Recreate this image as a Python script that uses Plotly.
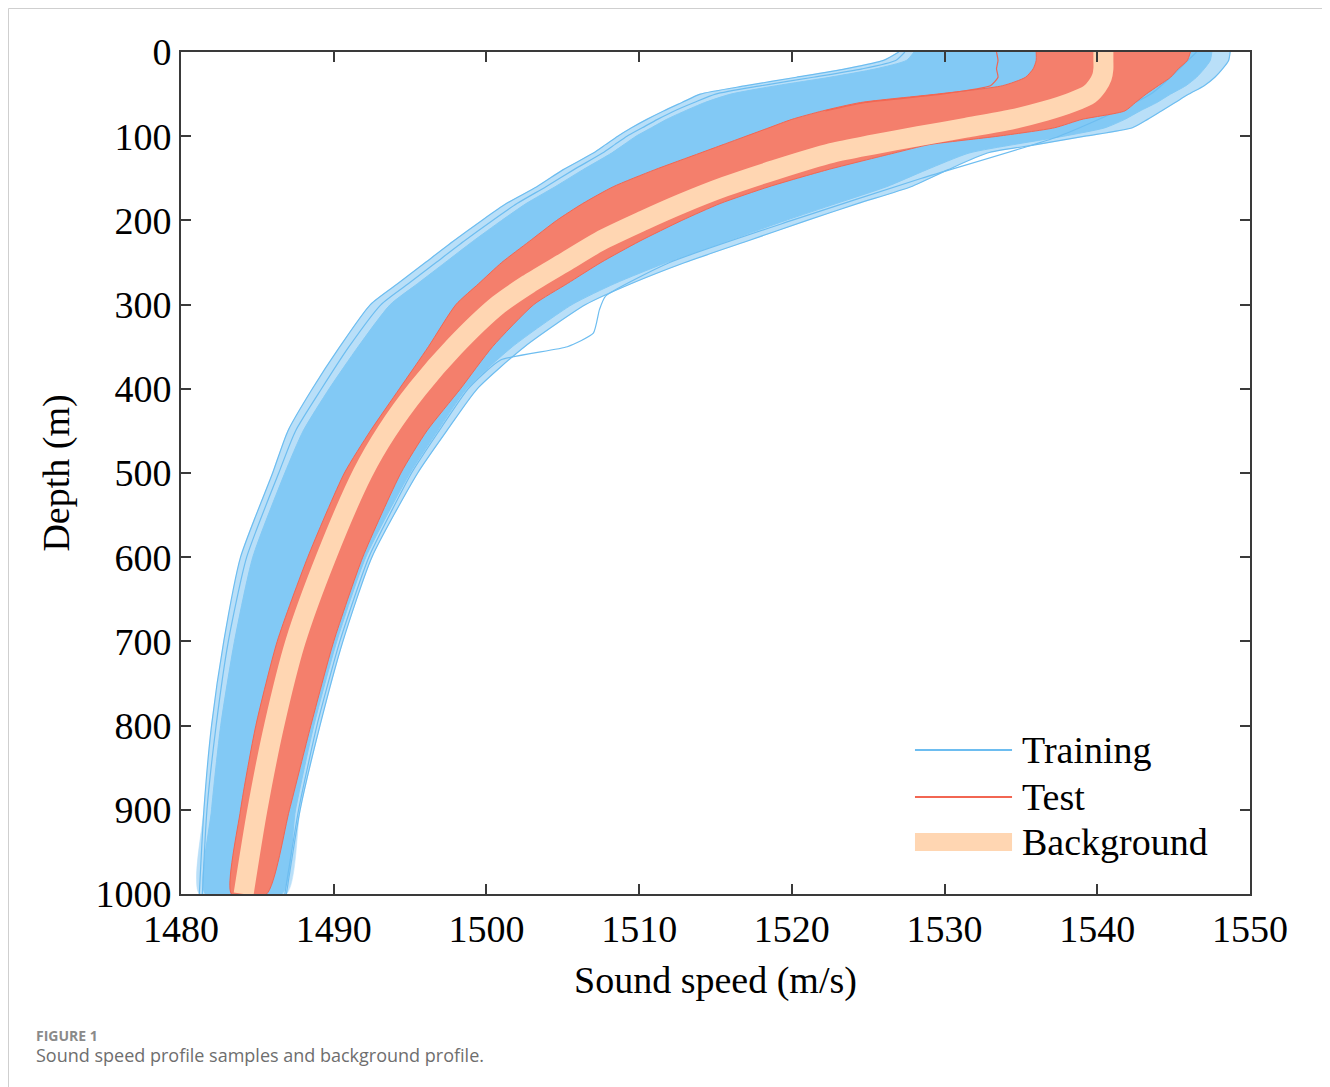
import plotly.graph_objects as go

# ---------------- data ----------------
depth = [0, 10, 20, 30, 40, 50, 60, 70, 80, 90, 100, 110, 120, 140, 160, 180,
         200, 225, 250, 275, 300, 350, 400, 450, 500, 600, 700, 800, 900, 1000]

# training profiles: outermost visible sample lines and the dense core of the bundle
training_min = [1527.0, 1526.0, 1523.5, 1520.3, 1517.0, 1514.0, 1512.8, 1511.6, 1510.5, 1509.5,
                1508.6, 1507.8, 1507.0, 1505.0, 1503.3, 1501.3, 1499.7, 1497.8, 1496.0, 1494.2,
                1492.4, 1490.4, 1488.6, 1487.0, 1486.0, 1483.9, 1482.8, 1482.0, 1481.5, 1481.2]
training_left_b = [1527.4, 1526.8, 1524.6, 1521.4, 1518.0, 1515.0, 1513.6, 1512.3, 1511.2, 1510.2,
                   1509.2, 1508.4, 1507.6, 1505.7, 1503.9, 1502.0, 1500.4, 1498.5, 1496.7, 1494.9,
                   1493.1, 1491.0, 1489.2, 1487.5, 1486.4, 1484.3, 1483.1, 1482.3, 1481.7, 1481.4]
training_dense_min = [1528.0, 1527.5, 1525.5, 1522.5, 1519.0, 1516.0, 1514.3, 1513.0, 1511.8, 1510.8,
                      1509.8, 1509.0, 1508.2, 1506.3, 1504.5, 1502.6, 1501.0, 1499.1, 1497.3, 1495.5,
                      1493.7, 1491.6, 1489.7, 1488.0, 1486.8, 1484.7, 1483.5, 1482.6, 1482.0, 1481.6]
training_dense_max = [1547.5, 1547.4, 1547.0, 1546.5, 1545.8, 1544.8, 1543.9, 1542.8, 1541.8, 1540.5,
                      1537.8, 1534.5, 1531.6, 1528.8, 1526.2, 1522.9, 1519.6, 1515.7, 1511.8, 1508.4,
                      1505.6, 1501.7, 1498.7, 1496.8, 1495.0, 1492.1, 1490.2, 1488.7, 1487.5, 1486.6]
training_max = [1548.7, 1548.6, 1548.2, 1547.7, 1547.0, 1546.0, 1545.1, 1544.2, 1543.3, 1542.3,
                1539.2, 1536.0, 1532.8, 1530.2, 1527.8, 1524.3, 1521.0, 1517.0, 1513.0, 1509.5,
                1506.5, 1502.5, 1499.4, 1497.4, 1495.5, 1492.5, 1490.6, 1489.1, 1487.8, 1486.9]

# envelope of the test profiles (red bundle)
test_min = [1536.0, 1536.0, 1535.8, 1535.3, 1533.8, 1529.5, 1524.5, 1522.0, 1520.0, 1518.5,
            1517.0, 1515.5, 1514.0, 1511.0, 1508.3, 1506.3, 1504.6, 1502.8, 1501.0, 1499.5,
            1498.0, 1496.2, 1494.3, 1492.4, 1490.7, 1488.3, 1486.3, 1484.9, 1483.9, 1483.3]
test_max = [1546.1, 1545.9, 1545.3, 1544.8, 1544.0, 1543.2, 1542.5, 1541.8, 1539.0, 1537.2,
            1533.5, 1529.0, 1526.7, 1522.3, 1518.5, 1515.3, 1512.8, 1510.0, 1507.5, 1505.3,
            1503.1, 1500.4, 1498.3, 1496.1, 1494.4, 1491.9, 1490.0, 1488.5, 1487.1, 1485.6]

# background profile
background = [1540.4, 1540.4, 1540.4, 1540.3, 1540.0, 1539.5, 1538.3, 1536.6, 1534.4, 1531.4,
              1528.3, 1525.3, 1522.6, 1518.9, 1515.6, 1512.8, 1510.3, 1507.4, 1505.1, 1502.8,
              1500.8, 1497.9, 1495.5, 1493.5, 1491.9, 1489.5, 1487.5, 1486.1, 1485.0, 1484.1]

# individual visible sample lines
train_outlier_depth = [0, 50, 100, 150, 200, 250, 290, 306, 334, 350, 366, 400, 450, 500, 600, 700, 800, 900, 1000]
train_outlier_speed = [1546.5, 1543.5, 1537.5, 1528.5, 1520.0, 1512.0, 1507.8, 1507.4, 1507.0, 1505.3,
                       1500.9, 1498.8, 1496.9, 1495.1, 1492.3, 1490.4, 1488.9, 1487.7, 1486.8]
test_outlier_depth = [0, 10, 20, 30, 40, 50, 60, 70]
test_outlier_speed = [1533.4, 1533.5, 1533.4, 1533.5, 1533.0, 1529.8, 1524.8, 1522.2]

x_ticks = [1480, 1490, 1500, 1510, 1520, 1530, 1540, 1550]
y_ticks = [0, 100, 200, 300, 400, 500, 600, 700, 800, 900, 1000]

legend_labels = ["Training", "Test", "Background"]

# ---------------- styles ----------------
BLUE_FILL = "#82C9F5"
BLUE_SPARSE = "#B9DFF8"
BLUE_LINE = "#6DBDF0"
RED_FILL = "#F47F6C"
RED_LINE = "#F26652"
PEACH = "#FFD6B2"
SERIF = "Liberation Serif, Times New Roman, serif"
FS = 38
SPL = dict(shape="spline", smoothing=0.6)

fig = go.Figure()

# training bundle: sparse outer zone, dense core, edge sample lines
fig.add_trace(go.Scatter(
    x=training_min + training_max[::-1], y=depth + depth[::-1],
    fill="toself", fillcolor=BLUE_SPARSE, mode="lines",
    line=dict(color=BLUE_SPARSE, width=0.5, **SPL),
    hoverinfo="skip", showlegend=False))
fig.add_trace(go.Scatter(
    x=training_dense_min + training_dense_max[::-1], y=depth + depth[::-1],
    fill="toself", fillcolor=BLUE_FILL, mode="lines",
    line=dict(color=BLUE_FILL, width=1, **SPL),
    hoverinfo="skip", showlegend=False))
for xs in (training_min, training_left_b, training_max):
    fig.add_trace(go.Scatter(x=xs, y=depth, mode="lines",
                             line=dict(color=BLUE_LINE, width=1.2, **SPL),
                             hoverinfo="skip", showlegend=False))
fig.add_trace(go.Scatter(
    x=train_outlier_speed, y=train_outlier_depth, mode="lines",
    line=dict(color=BLUE_LINE, width=1.2, shape="spline", smoothing=0.5),
    hoverinfo="skip", showlegend=False))

# test bundle
fig.add_trace(go.Scatter(
    x=test_min + test_max[::-1], y=depth + depth[::-1],
    fill="toself", fillcolor=RED_FILL, mode="lines",
    line=dict(color=RED_LINE, width=1, **SPL),
    hoverinfo="skip", showlegend=False))
fig.add_trace(go.Scatter(
    x=test_outlier_speed, y=test_outlier_depth, mode="lines",
    line=dict(color=RED_LINE, width=1.2, shape="spline", smoothing=0.5),
    hoverinfo="skip", showlegend=False))

# background profile
fig.add_trace(go.Scatter(
    x=background, y=depth, mode="lines",
    line=dict(color=PEACH, width=20, shape="spline", smoothing=0.8),
    hoverinfo="skip", showlegend=False))

# ---------------- manual legend (long line samples as in the reference) ----------------
leg_x0, leg_x1, leg_tx = 0.6866, 0.7774, 0.7849
leg_y = [0.171, 0.1152, 0.0618]
leg_styles = [(BLUE_LINE, 2), (RED_LINE, 2), (PEACH, 18)]
for lab, yy, (c, w) in zip(legend_labels, leg_y, leg_styles):
    fig.add_shape(type="line", xref="paper", yref="paper",
                  x0=leg_x0, x1=leg_x1, y0=yy, y1=yy,
                  line=dict(color=c, width=w))
    fig.add_annotation(xref="paper", yref="paper", x=leg_tx, y=yy, text=lab,
                       showarrow=False, xanchor="left", yanchor="middle",
                       font=dict(family=SERIF, size=FS, color="black"))

# outer light frame
fig.add_shape(type="rect", xref="paper", yref="paper",
              x0=-0.16137, x1=1.07203, y0=-0.25, y1=1.05166,
              line=dict(color="#cfcfcf", width=1), fillcolor="rgba(0,0,0,0)", layer="below")

# caption
fig.add_annotation(xref="paper", yref="paper", x=-0.1375, y=-0.1675, text="<b>FIGURE 1</b>",
                   showarrow=False, xanchor="left", yanchor="middle",
                   font=dict(family="Open Sans, sans-serif", size=14, color="#8a8a8a"))
fig.add_annotation(xref="paper", yref="paper", x=-0.1375, y=-0.1912,
                   text="Sound speed profile samples and background profile.",
                   showarrow=False, xanchor="left", yanchor="middle",
                   font=dict(family="Open Sans, sans-serif", size=18, color="#6e6e6e"))

axis_common = dict(
    showline=True, linecolor="#3a3a3a", linewidth=2, mirror="ticks",
    ticks="inside", ticklen=10, tickwidth=2, tickcolor="#3a3a3a",
    showgrid=False, zeroline=False,
    tickfont=dict(family=SERIF, size=FS, color="black"),
)

fig.update_xaxes(range=[1480, 1550], tickvals=x_ticks,
                 title=dict(text="Sound speed (m/s)", font=dict(family=SERIF, size=FS, color="black"), standoff=18),
                 **axis_common)
fig.update_yaxes(range=[1000, 0], tickvals=y_ticks,
                 title=dict(text="Depth (m)", font=dict(family=SERIF, size=FS, color="black"), standoff=14),
                 **axis_common)

fig.update_layout(
    width=1322, height=1079,
    margin=dict(l=173, r=80, t=44, b=193, autoexpand=False),
    paper_bgcolor="white", plot_bgcolor="white",
    showlegend=False,
)

fig.write_html("out.html")
